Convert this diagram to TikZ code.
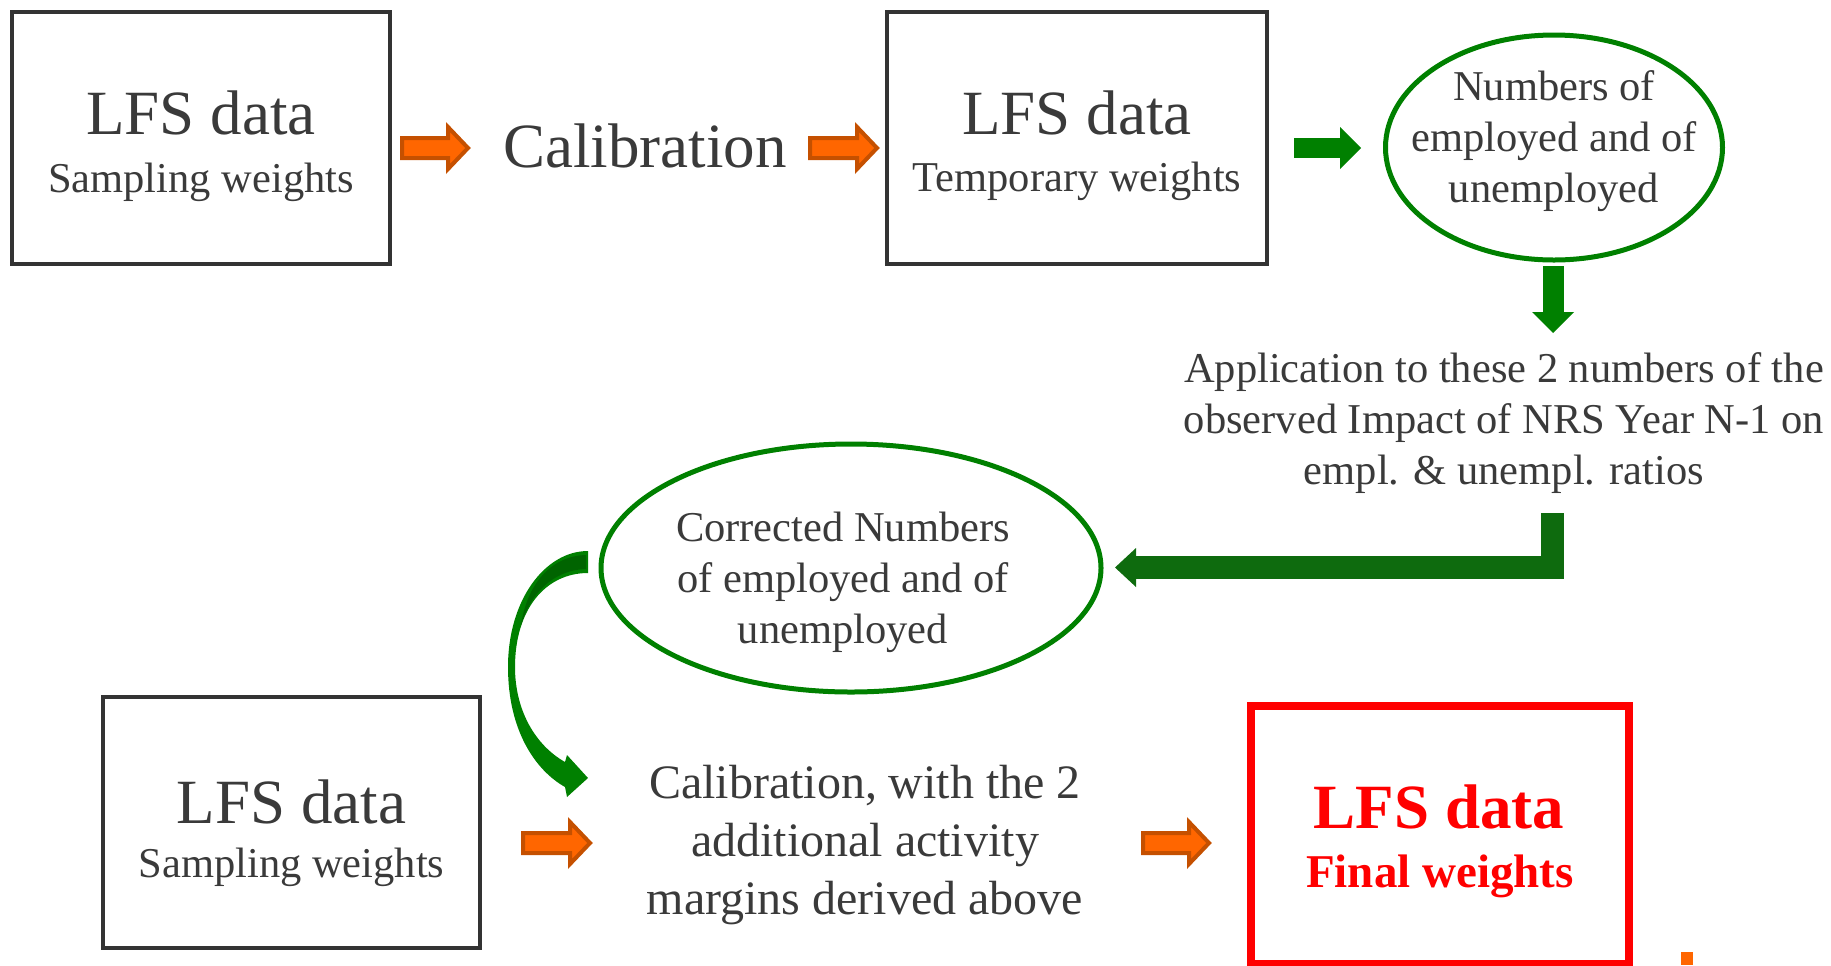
\documentclass[tikz,border=0pt]{standalone}
\usepackage{fontspec}
\setmainfont{Liberation Serif}
\usetikzlibrary{arrows.meta,calc,shapes.geometric}
\definecolor{txt}{HTML}{3A3A3A}
\definecolor{boxc}{HTML}{333333}
\definecolor{gr}{HTML}{008000}
\definecolor{grd}{HTML}{0E6B0E}
\definecolor{grdark}{HTML}{006400}
\definecolor{orF}{HTML}{FF6600}
\definecolor{orD}{HTML}{C55000}
\definecolor{rd}{HTML}{FF0000}
\newcommand\OrArrow[2]{\path[oarr] ($(#1)+(0,-10)$) -- ($(#2)+(-20,-10)$) -- ($(#2)+(-20,-21)$) -- (#2) -- ($(#2)+(-20,21)$) -- ($(#2)+(-20,10)$) -- ($(#1)+(0,10)$) -- cycle;}
\begin{document}
\begin{tikzpicture}[x=0.5pt,y=-0.5pt,
 boxst/.style={draw=boxc,line width=1.75pt,inner sep=0},
 bigtxt/.style={font=\fontsize{31.5}{36}\selectfont,text=txt,anchor=base,inner sep=0},
 smtxt/.style={font=\fontsize{21.25}{25.5}\selectfont,text=txt,anchor=base,inner sep=0,align=center},
 midtxt/.style={font=\fontsize{24}{29}\selectfont,text=txt,anchor=base,inner sep=0,align=center},
 ovalst/.style={ellipse,draw=gr,line width=2.5pt,inner sep=0},
 oarr/.style={draw=orD,fill=orF,line width=2pt,line join=miter},
 garr/.style={draw=gr,line width=10pt,-{Triangle[width=21pt,length=10.5pt,line width=0pt]}},
]
\useasboundingbox (0,0) rectangle (1831,965);
% top row
\node[boxst,minimum width=189pt,minimum height=126pt] (b1) at (201,138) {};
\node[bigtxt] (b1t) at (201,134) {LFS data};
\node[smtxt] (b1s) at (201,192) {Sampling weights};
\node[bigtxt] (cal) at (645,167) {Calibration};
\node[boxst,minimum width=190pt,minimum height=126pt] (b2) at (1077,138) {};
\node[bigtxt] (b2t) at (1077,134) {LFS data};
\node[smtxt] (b2s) at (1077,191) {Temporary weights};
\node[ovalst,minimum width=168.5pt,minimum height=112.5pt] (e1) at (1554,147.5) {};
\node[smtxt] (e1t) at (1554,202) {Numbers of\\employed and of\\unemployed};
% middle
\node[smtxt] (app) at (1504,484) {Application to these 2 numbers of the\\observed Impact of NRS Year N-1 on\\empl. \& unempl. ratios};
\node[ovalst,minimum width=250pt,minimum height=124pt] (e2) at (851,568) {};
\node[smtxt] (e2t) at (843,643) {Corrected Numbers\\of employed and of\\unemployed};
% bottom row
\node[boxst,minimum width=188.5pt,minimum height=125.5pt] (b3) at (291.5,822.5) {};
\node[bigtxt] (b3t) at (291.5,823) {LFS data};
\node[smtxt] (b3s) at (291.5,877) {Sampling weights};
\node[midtxt] (cal2) at (865,914) {Calibration, with the 2\\additional activity\\margins derived above};
\node[draw=rd,line width=4pt,inner sep=0,minimum width=189pt,minimum height=129pt] (fin) at (1440,835) {};
\node[font=\fontsize{31.5}{36}\selectfont\bfseries,text=rd,anchor=base,inner sep=0] (fint) at (1439,828) {LFS data};
\node[font=\fontsize{23.5}{28}\selectfont\bfseries,text=rd,anchor=base,inner sep=0] (fins) at (1440,887) {Final weights};
% orange block arrows
\coordinate (a1s) at (402,148); \coordinate (a1e) at (468,148);
\OrArrow{a1s}{a1e}
\coordinate (a2s) at (810,148); \coordinate (a2e) at (877,148);
\OrArrow{a2s}{a2e}
\coordinate (a3s) at (523,843); \coordinate (a3e) at (590,843);
\OrArrow{a3s}{a3e}
\coordinate (a4s) at (1143,843); \coordinate (a4e) at (1209,843);
\OrArrow{a4s}{a4e}
% green arrows
\coordinate (g1s) at (1294,148); \coordinate (g1e) at (1361,148);
\draw[garr] (g1s) -- (g1e);
\coordinate (g2s) at (1553,266); \coordinate (g2e) at (1553,333);
\draw[garr,line width=10.5pt] (g2s) -- (g2e);
\coordinate (g3s) at (1552,513); \coordinate (g3e) at (1115,567.5);
\draw[draw=grd,line width=11.5pt,line join=miter,-{Triangle[width=19.5pt,length=10.5pt,line width=0pt]}] (g3s) |- (g3e);
% curved arrow
\fill[gr] (588,551) .. controls (545,551) and (508,600) .. (508,667) .. controls (508,730) and (535,770) .. (565,787) -- (567,797) -- (588,778) -- (567,755) -- (565,762) .. controls (535,745) and (515,710) .. (515,667) .. controls (515,610) and (545,573) .. (588,573) -- cycle;
\fill[grdark] (586,555) .. controls (550,556) and (527,585) .. (521,625) .. controls (530,595) and (552,570) .. (586,569) -- cycle;
% small orange mark
\fill[orF] (1681,952) rectangle (1693,965);
\end{tikzpicture}
\end{document}
